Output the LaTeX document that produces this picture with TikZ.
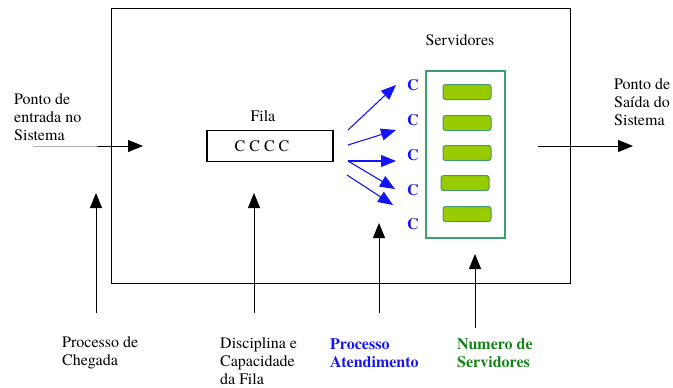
\documentclass[tikz,border=0pt]{standalone}
\usepackage{fontspec}
\setmainfont{TeX Gyre Termes}
\usetikzlibrary{arrows.meta}
\definecolor{cblue}{RGB}{20,20,245}
\definecolor{tgreen}{RGB}{20,130,20}
\definecolor{boxgreen}{RGB}{60,160,110}
\definecolor{barfill}{RGB}{153,204,0}
\definecolor{barline}{RGB}{70,150,110}
\tikzset{
  lbl/.style={font=\rmfamily\fontsize{16}{18}\selectfont, align=left, inner sep=0pt, anchor=west},
  txt/.style={font=\rmfamily\fontsize{16}{18}\selectfont, inner sep=0pt},
  bigarrow/.style={line width=1pt, -{Triangle[length=15pt,width=12pt]}},
  bluearrow/.style={cblue, line width=1.1pt, -{Triangle[length=15pt,width=12pt]}},
  bar/.style={draw=barline, fill=barfill, line width=1pt, rounded corners=2.5pt, minimum width=48pt, minimum height=15pt, inner sep=0pt},
  cl/.style={cblue, font=\rmfamily\fontsize{16}{18}\selectfont\bfseries, inner sep=0pt}
}
\begin{document}
\begin{tikzpicture}[x=1pt,y=-1pt]
\useasboundingbox (0,0) rectangle (673,388);
% system box
\node[draw, line width=1.1pt, minimum width=459pt, minimum height=275pt, inner sep=0pt, anchor=north west] (sys) at (111,8) {};
% entry
\node[lbl] (entry) at (14,117.5) {Ponto de\\entrada no\\Sistema};
\coordinate (e0) at (33,146);
\coordinate (e1) at (97,146);
\coordinate (e2) at (143,146);
\draw[gray!60, line width=0.7pt] (e0) -- (e1);
\draw[bigarrow] (e1) -- (e2);
% queue
\node[txt] (filat) at (263,116) {Fila};
\node[draw, line width=1.1pt, minimum width=126pt, minimum height=31pt, inner sep=0pt] (fila) at (270,146) {};
\node[txt] (filac) at (262,146) {C C C C};
% servers
\node[txt] (servt) at (460,40) {Servidores};
\node[draw=boxgreen, line width=2.2pt, minimum width=79pt, minimum height=167pt, inner sep=0pt, anchor=north west] (srv) at (425,70) {};
\node[bar] (b1) at (467,92) {};
\node[bar] (b2) at (467,123) {};
\node[bar] (b3) at (467,153) {};
\node[bar] (b4) at (465,183) {};
\node[bar] (b5) at (467,214) {};
% customers
\node[cl] (c1) at (413,85) {C};
\node[cl] (c2) at (413,120) {C};
\node[cl] (c3) at (413,155) {C};
\node[cl] (c4) at (413,190) {C};
\node[cl] (c5) at (413,224) {C};
\coordinate (s1) at (348,130);
\coordinate (s2) at (348,145);
\coordinate (s3) at (348,161);
\coordinate (s5) at (347,175);
\coordinate (t1) at (396,85);
\coordinate (t2) at (396,130);
\coordinate (t3) at (396,161);
\coordinate (t4) at (395,189);
\coordinate (t5) at (393,205);
\draw[bluearrow] (s1) -- (t1);
\draw[bluearrow] (s2) -- (t2);
\draw[bluearrow] (s3) -- (t3);
\draw[bluearrow] (s3) -- (t4);
\draw[bluearrow] (s5) -- (t5);
% exit
\node[lbl] (exit) at (614,102) {Ponto de\\Saída do\\Sistema};
\coordinate (x0) at (538,146);
\coordinate (x1) at (633,146);
\draw[bigarrow] (x0) -- (x1);
% bottom labels
\node[lbl] (l1) at (62,352.5) {Processo de\\Chegada};
\node[lbl] (l2) at (220,361.5) {Disciplina e\\Capacidade\\da Fila};
\node[lbl, cblue, font=\rmfamily\fontsize{16}{18}\selectfont\bfseries] (l3) at (330,353) {Processo\\Atendimento};
\node[lbl, tgreen, font=\rmfamily\fontsize{16}{18}\selectfont\bfseries] (l4) at (457,353) {Numero de\\Servidores};
\coordinate (a1b) at (96,313);
\coordinate (a1t) at (96,193);
\coordinate (a2b) at (254,313);
\coordinate (a2t) at (254,193);
\coordinate (a3b) at (379,313);
\coordinate (a3t) at (379,223);
\coordinate (a4b) at (475,328);
\coordinate (a4t) at (475,254);
\draw[bigarrow] (a1b) -- (a1t);
\draw[bigarrow] (a2b) -- (a2t);
\draw[bigarrow] (a3b) -- (a3t);
\draw[bigarrow] (a4b) -- (a4t);
\end{tikzpicture}
\end{document}
